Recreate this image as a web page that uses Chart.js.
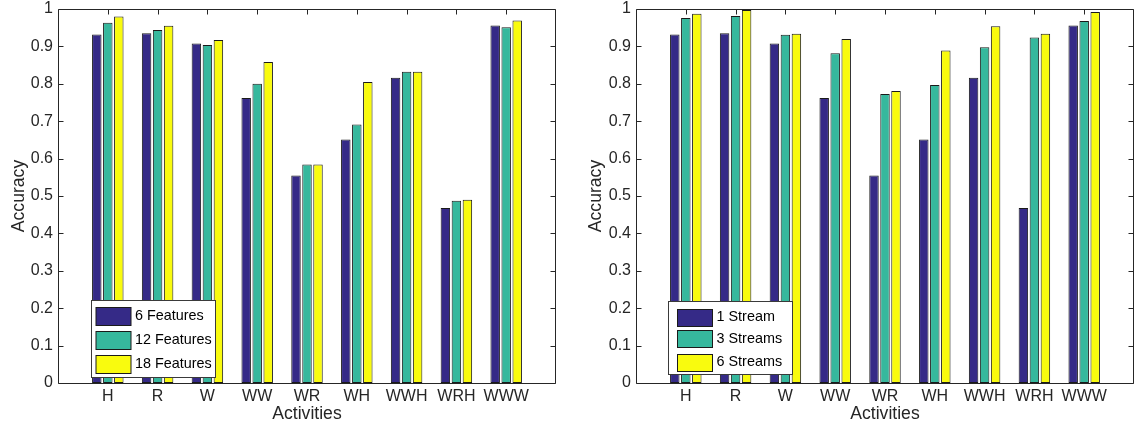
<!DOCTYPE html>
<html><head><meta charset="utf-8">
<script src="https://cdn.jsdelivr.net/npm/chart.js@4"></script>
<style>
html,body{margin:0;padding:0;background:#fff;width:1135px;height:425px;overflow:hidden}
.w{position:absolute;top:0;height:425px}
</style></head><body>
<div class="w" style="left:0;width:566px"><canvas id="c1" width="566" height="425"></canvas></div>
<div class="w" style="left:577px;width:558px"><canvas id="c2" width="558" height="425"></canvas></div>
<script>
// ---- data ----
const activities = ['H', 'R', 'W', 'WW', 'WR', 'WH', 'WWH', 'WRH', 'WWW'];
const yTickLabels = ['0', '0.1', '0.2', '0.3', '0.4', '0.5', '0.6', '0.7', '0.8', '0.9', '1'];

const features6  = [0.932, 0.935, 0.908, 0.762, 0.555, 0.651, 0.816, 0.468, 0.956];
const features12 = [0.963, 0.944, 0.904, 0.800, 0.584, 0.691, 0.832, 0.487, 0.951];
const features18 = [0.980, 0.955, 0.917, 0.858, 0.584, 0.805, 0.832, 0.490, 0.969];

const stream1 = [0.932, 0.935, 0.908, 0.762, 0.555, 0.651, 0.816, 0.468, 0.956];
const stream3 = [0.976, 0.981, 0.931, 0.882, 0.773, 0.797, 0.898, 0.924, 0.968];
const stream6 = [0.987, 0.997, 0.934, 0.920, 0.781, 0.889, 0.954, 0.934, 0.992];

const leftLegend  = ['6 Features', '12 Features', '18 Features'];
const rightLegend = ['1 Stream', '3 Streams', '6 Streams'];

// ---- styling ----
const FONT = '"Liberation Sans", Arial, Helvetica, sans-serif';
const COLORS = ['#352a87', '#36b89d', '#f9fb0e'];
const AXIS = '#262626';
const pad = arr => [null, ...arr, null];
const paddedLabels = ['', ...activities, ''];

const framePlugin = {
  id: 'frame',
  beforeDatasetsDraw(chart) {
    const {ctx, chartArea: a, scales: {x}} = chart;
    ctx.save();
    ctx.strokeStyle = AXIS; ctx.lineWidth = 1;
    ctx.beginPath();
    for (let i = 1; i <= activities.length; i++) {
      const px = Math.round(x.getPixelForTick(i)) + 0.5;
      ctx.moveTo(px, a.bottom); ctx.lineTo(px, a.bottom - 5);
    }
    ctx.stroke();
    ctx.restore();
  },
  afterDatasetsDraw(chart) {
    const {ctx, chartArea: a, scales: {x, y}} = chart;
    ctx.save();
    ctx.strokeStyle = AXIS; ctx.lineWidth = 1;
    const L = Math.round(a.left) + 0.5, R = Math.round(a.right) - 0.5;
    const T = Math.round(a.top) + 0.5, B = Math.round(a.bottom) + 0.5;
    ctx.beginPath();
    ctx.rect(L, T, R - L, B - T);
    for (let i = 1; i <= activities.length; i++) {
      const px = Math.round(x.getPixelForTick(i)) + 0.5;
      ctx.moveTo(px, T); ctx.lineTo(px, T + 5);
    }
    y.ticks.forEach((t, i) => {
      const py = Math.round(y.getPixelForTick(i)) + 0.5;
      ctx.moveTo(L, py); ctx.lineTo(L + 5, py);
      ctx.moveTo(R, py); ctx.lineTo(R - 5, py);
    });
    ctx.stroke();
    ctx.restore();
  },
  afterDraw(chart) {
    const o = chart.options.plugins.boxLegend;
    if (!o) return;
    const {ctx, chartArea: a} = chart;
    ctx.save();
    const bx = Math.round(a.left + o.left) + 0.5;
    const by = Math.round(a.bottom - o.bottom - o.height) + 0.5;
    ctx.fillStyle = '#fff';
    ctx.fillRect(bx, by, o.width, o.height);
    ctx.strokeStyle = '#3a3a3a'; ctx.lineWidth = 1;
    ctx.strokeRect(bx, by, o.width, o.height);
    ctx.font = '14.4px ' + FONT;
    ctx.textBaseline = 'middle'; ctx.textAlign = 'left';
    chart.data.datasets.forEach((ds, i) => {
      const cy = by + o.rows[i];
      const sx = bx + o.padLeft;
      const sy = Math.round(cy - o.swH / 2) + 0.5;
      ctx.fillStyle = ds.backgroundColor;
      ctx.fillRect(sx, sy, o.swW, o.swH);
      ctx.strokeStyle = '#1a1a1a';
      ctx.strokeRect(sx, sy, o.swW, o.swH);
      ctx.fillStyle = '#000';
      ctx.fillText(ds.label, sx + o.swW + o.textGap, cy + 0.5);
    });
    ctx.restore();
  }
};

function makeChart(id, series, names, yWidth, rightPad, legendOpts) {
  return new Chart(document.getElementById(id), {
    type: 'bar',
    data: {
      labels: paddedLabels,
      datasets: series.map((s, i) => ({
        label: names[i],
        data: pad(s),
        backgroundColor: COLORS[i],
        borderColor: '#1a1a1a',
        borderWidth: 1,
        borderSkipped: false
      }))
    },
    options: {
      responsive: false,
      animation: false,
      events: [],
      layout: {padding: {top: 9, right: rightPad, bottom: 0, left: 0}},
      datasets: {bar: {categoryPercentage: 0.663, barPercentage: 0.86}},
      plugins: {
        legend: {display: false},
        tooltip: {enabled: false},
        boxLegend: legendOpts
      },
      scales: {
        x: {
          offset: false,
          grid: {display: false, drawTicks: false},
          border: {display: false},
          ticks: {
            autoSkip: false, maxRotation: 0, padding: 4,
            color: AXIS, font: {family: FONT, size: 16},
            callback: (v, i) => paddedLabels[i]
          },
          title: {display: true, text: 'Activities', color: AXIS,
                  font: {family: FONT, size: 17.6}, padding: {top: 0, bottom: 0}},
          afterFit(s) { s.height = 42; s.paddingLeft = 0; s.paddingRight = 0; }
        },
        y: {
          min: 0, max: 1,
          grid: {display: false, drawTicks: false},
          border: {display: false},
          ticks: {
            stepSize: 0.1, padding: 5, color: AXIS,
            font: {family: FONT, size: 16},
            callback: (v, i) => yTickLabels[i]
          },
          title: {display: true, text: 'Accuracy', color: AXIS,
                  font: {family: FONT, size: 17.6}, padding: {top: 8.6, bottom: 0}},
          afterFit(s) { s.width = yWidth; s.paddingTop = 0; s.paddingBottom = 0; }
        }
      }
    },
    plugins: [framePlugin]
  });
}

makeChart('c1', [features6, features12, features18], leftLegend, 58, 10,
  {left: 32.5, bottom: 6.5, width: 124, height: 77, padLeft: 4.5, swW: 35, swH: 18,
   textGap: 4, rows: [15, 39, 63.5]});
makeChart('c2', [stream1, stream3, stream6], rightLegend, 59, 1,
  {left: 31.5, bottom: 9, width: 124, height: 73, padLeft: 9, swW: 35, swH: 17,
   textGap: 4, rows: [15.5, 37, 60.5]});
</script>
</body></html>
